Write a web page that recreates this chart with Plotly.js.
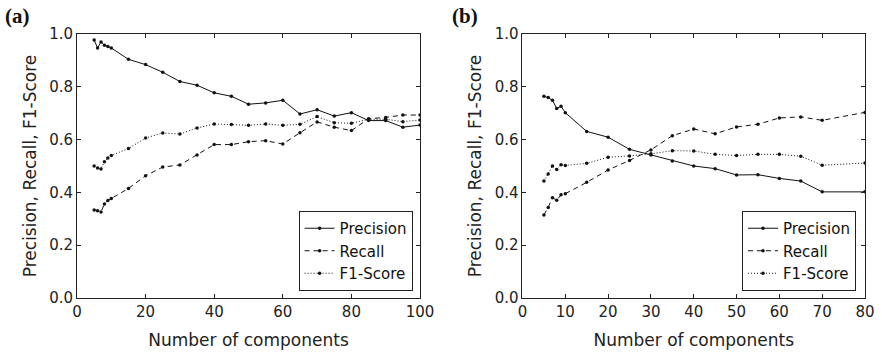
<!DOCTYPE html>
<html>
<head>
<meta charset="utf-8">
<script src="https://cdn.plot.ly/plotly-3.0.1.min.js"></script>
<style>html,body{margin:0;padding:0;background:#fff;}#chart{width:882px;height:354px;}</style>
</head>
<body>
<div id="chart"></div>
<script>
// Panel (a)
var compsA = [5,6,7,8,9,10,15,20,25,30,35,40,45,50,55,60,65,70,75,80,85,90,95,100];
var precisionA = [0.977,0.947,0.970,0.957,0.953,0.947,0.904,0.884,0.855,0.820,0.806,0.777,0.764,0.734,0.739,0.749,0.697,0.713,0.689,0.702,0.672,0.672,0.647,0.655];
var recallA = [0.333,0.330,0.326,0.356,0.369,0.377,0.415,0.463,0.496,0.504,0.542,0.581,0.581,0.592,0.596,0.583,0.626,0.667,0.647,0.634,0.679,0.684,0.693,0.693];
var f1A = [0.500,0.492,0.489,0.516,0.530,0.540,0.566,0.606,0.625,0.621,0.644,0.659,0.657,0.654,0.659,0.654,0.658,0.687,0.664,0.662,0.677,0.677,0.668,0.674];

// Panel (b)
var compsB = [5,6,7,8,9,10,15,20,25,30,35,40,45,50,55,60,65,70,80];
var precisionB = [0.764,0.759,0.749,0.718,0.726,0.702,0.631,0.609,0.563,0.542,0.519,0.500,0.490,0.466,0.467,0.453,0.443,0.402,0.402];
var recallB = [0.314,0.343,0.380,0.370,0.391,0.395,0.438,0.485,0.521,0.561,0.615,0.640,0.622,0.648,0.658,0.682,0.686,0.673,0.703];
var f1B = [0.443,0.470,0.500,0.487,0.505,0.502,0.510,0.533,0.538,0.546,0.558,0.557,0.544,0.540,0.544,0.544,0.537,0.503,0.511];

var seriesNames = ['Precision','Recall','F1-Score'];
var xTicksA = [0,20,40,60,80,100];
var xTicksB = [0,10,20,30,40,50,60,70,80];
var yTicks = [0,0.2,0.4,0.6,0.8,1.0];

var dashes = ['solid','5px,4px','1px,2px'];

function mk(x, y, i, xa, ya, leg) {
  return {
    x: x, y: y, type: 'scatter', mode: 'lines+markers',
    name: seriesNames[i], xaxis: xa, yaxis: ya, legend: leg,
    line: {color: '#111', width: 1, dash: dashes[i]},
    marker: {color: '#111', size: 3.5, symbol: 'circle'}
  };
}

var data = [
  mk(compsA, precisionA, 0, 'x', 'y', 'legend'),
  mk(compsA, recallA, 1, 'x', 'y', 'legend'),
  mk(compsA, f1A, 2, 'x', 'y', 'legend'),
  mk(compsB, precisionB, 0, 'x2', 'y2', 'legend2'),
  mk(compsB, recallB, 1, 'x2', 'y2', 'legend2'),
  mk(compsB, f1B, 2, 'x2', 'y2', 'legend2')
];

var tickFont = {family: 'DejaVu Sans', size: 15, color: '#222'};
var titleFont = {family: 'DejaVu Sans', size: 17, color: '#222'};

function xax(domain, range, ticks, anchor) {
  return {
    domain: domain, range: range, anchor: anchor,
    tickvals: ticks, ticktext: ticks.map(String),
    ticks: 'inside', ticklen: 4, tickwidth: 1, tickcolor: '#222',
    showline: true, linecolor: '#222', linewidth: 1, mirror: 'ticks',
    showgrid: false, zeroline: false, tickfont: tickFont,
    title: {text: 'Number of components', font: titleFont, standoff: 14}
  };
}
function yax(anchor) {
  return {
    domain: [0.1582, 0.904], range: [0, 1], anchor: anchor,
    tickvals: yTicks, ticktext: yTicks.map(function(v){return v.toFixed(1);}),
    ticks: 'inside', ticklen: 4, tickwidth: 1, tickcolor: '#222',
    showline: true, linecolor: '#222', linewidth: 1, mirror: 'ticks',
    showgrid: false, zeroline: false, tickfont: tickFont,
    title: {text: 'Precision, Recall, F1-Score', font: titleFont, standoff: 8}
  };
}

function leg(xr) {
  return {
    x: xr, xanchor: 'right', y: 0.178, yanchor: 'bottom',
    bordercolor: '#222', borderwidth: 1, bgcolor: '#fff',
    font: {family: 'DejaVu Sans', size: 15, color: '#111'},
    tracegroupgap: 0, itemwidth: 30
  };
}

var layout = {
  width: 882, height: 354,
  margin: {l: 0, r: 0, t: 0, b: 0},
  paper_bgcolor: '#fff', plot_bgcolor: '#fff',
  showlegend: true,
  xaxis: xax([0.0873, 0.4762], [0, 100], xTicksA, 'y'),
  yaxis: yax('x'),
  xaxis2: xax([0.5924, 0.9807], [0, 80], xTicksB, 'y2'),
  yaxis2: yax('x2'),
  legend: leg(0.4678),
  legend2: leg(0.9705),
  annotations: [
    {text: '<b>(a)</b>', xref: 'paper', yref: 'paper', x: 0.003, y: 0.995, xanchor: 'left', yanchor: 'top', showarrow: false, font: {family: 'Liberation Serif', size: 21, color: '#111'}},
    {text: '<b>(b)</b>', xref: 'paper', yref: 'paper', x: 0.510, y: 0.995, xanchor: 'left', yanchor: 'top', showarrow: false, font: {family: 'Liberation Serif', size: 21, color: '#111'}}
  ]
};

Plotly.newPlot('chart', data, layout, {displayModeBar: false, staticPlot: true});
</script>
</body>
</html>
